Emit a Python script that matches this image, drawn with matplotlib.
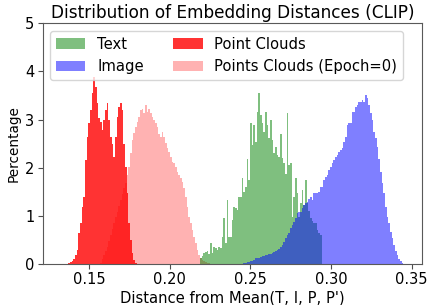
"""Histogram of embedding distances to the mean (CLIP)."""
import matplotlib; matplotlib.use('Agg')  # noqa: E702
import matplotlib.pyplot as plt
import numpy as np

# all series share the same bin width, each one has its own first bin edge
BIN_WIDTH = 0.001033

TEXT_START = 0.2188
TEXT_PCT = [
    0.12, 0.16, 0.22, 0.24, 0.26, 0.20, 0.43, 0.22, 0.36, 0.33,
    0.29, 0.36, 0.33, 0.57, 0.95, 0.43, 1.33, 0.57, 0.57, 0.91,
    1.19, 1.16, 1.12, 1.40, 1.40, 1.78, 1.50, 1.60, 2.19, 1.74,
    2.92, 2.47, 2.89, 2.54, 3.16, 3.55, 3.09, 2.92, 2.75, 3.16,
    2.89, 2.61, 2.99, 2.58, 2.30, 2.44, 2.26, 2.23, 2.70, 2.20,
    2.10, 1.88, 3.13, 2.06, 2.10, 0.98, 1.40, 1.78, 1.47, 0.98,
    1.26, 1.54, 1.23, 1.74, 1.26, 1.10, 0.95, 0.90, 0.85, 0.85,
    0.70, 0.65, 0.60,
]

IMAGE_START = 0.2446
IMAGE_PCT = [
    0.01, 0.02, 0.03, 0.04, 0.05, 0.06, 0.07, 0.09, 0.12, 0.12,
    0.13, 0.15, 0.16, 0.17, 0.18, 0.19, 0.20, 0.21, 0.22, 0.24,
    0.26, 0.29, 0.32, 0.36, 0.39, 0.46, 0.53, 0.60, 0.64, 0.74,
    0.80, 0.88, 0.95, 1.05, 1.07, 1.09, 1.16, 1.23, 1.26, 1.29,
    1.36, 1.40, 1.33, 1.47, 1.47, 1.47, 1.50, 1.60, 1.61, 1.74,
    1.81, 1.85, 1.95, 2.02, 2.09, 2.16, 2.23, 2.26, 2.33, 2.37,
    2.40, 2.54, 2.64, 2.89, 2.92, 2.92, 3.16, 3.16, 3.27, 3.30,
    3.37, 3.37, 3.41, 3.37, 3.51, 3.44, 3.30, 3.13, 2.99, 2.75,
    2.61, 2.44, 2.19, 1.92, 1.68, 1.47, 1.19, 0.98, 0.85, 0.67,
    0.53, 0.39, 0.26, 0.19, 0.10, 0.06, 0.03,
]

PC_START = 0.1372
PC_PCT = [
    0.02, 0.04, 0.06, 0.10, 0.18, 0.29, 0.64, 0.85, 1.19, 1.40,
    2.16, 2.64, 2.92, 3.20, 3.55, 3.89, 3.68, 3.34, 3.03, 2.96,
    2.78, 2.99, 3.20, 3.35, 2.99, 2.64, 2.50, 2.23, 2.64, 3.06,
    3.27, 3.34, 3.20, 2.50, 2.02, 1.47, 0.85, 0.50, 0.22, 0.08,
    0.02,
]

PC0_START = 0.1568
PC0_PCT = [
    0.02, 0.10, 0.18, 0.26, 0.36, 0.48, 0.60, 0.72, 0.85, 0.97,
    1.09, 1.21, 1.33, 1.45, 1.57, 1.68, 1.85, 2.02, 2.30, 2.58,
    2.72, 2.85, 2.96, 3.06, 3.20, 3.23, 3.14, 3.30, 3.16, 3.21,
    3.13, 3.06, 2.99, 2.92, 2.85, 2.71, 2.64, 2.75, 2.64, 2.51,
    2.40, 2.33, 2.23, 2.12, 2.09, 2.02, 1.92, 1.85, 1.78, 1.71,
    1.57, 1.40, 1.19, 0.98, 0.85, 0.71, 0.57, 0.43, 0.29, 0.19,
    0.12, 0.08, 0.06, 0.04, 0.03, 0.02,
]


def _hist(ax, start, heights, **kw):
    edges = start + BIN_WIDTH * np.arange(len(heights))
    return ax.bar(edges, heights, width=BIN_WIDTH, align='edge', linewidth=0, **kw)


fig = plt.figure(figsize=(4.36, 3.05), dpi=100)
ax = fig.add_axes([0.098, 0.1344, 0.8706, 0.7892])

h_pc0 = _hist(ax, PC0_START, PC0_PCT, color='red', alpha=0.3, label='Points Clouds (Epoch=0)')
h_txt = _hist(ax, TEXT_START, TEXT_PCT, color='green', alpha=0.5, label='Text')
h_img = _hist(ax, IMAGE_START, IMAGE_PCT, color='blue', alpha=0.5, label='Image')
h_pc = _hist(ax, PC_START, PC_PCT, color='red', alpha=0.8, label='Point Clouds')

ax.set_xlim(0.1213, 0.3566)
ax.set_ylim(0, 5)
ax.set_xticks([0.15, 0.20, 0.25, 0.30, 0.35])
ax.set_xticklabels(['0.15', '0.20', '0.25', '0.30', '0.35'])
ax.set_yticks([0, 1, 2, 3, 4, 5])
ax.tick_params(labelsize=10.5, color='0.3', pad=2.5)
for sp in ax.spines.values():
    sp.set_color('0.35')

ax.set_title('Distribution of Embedding Distances (CLIP)', fontsize=12.2, pad=4)
ax.set_xlabel("Distance from Mean(T, I, P, P')", fontsize=10.6, labelpad=2)
ax.set_ylabel('Percentage', fontsize=9.8, labelpad=3)
ax.legend([h_txt, h_img, h_pc, h_pc0],
          ['Text', 'Image', 'Point Clouds', 'Points Clouds (Epoch=0)'],
          ncol=2, loc='upper left', fontsize=10.6)

fig.savefig('out.png', dpi=100)
